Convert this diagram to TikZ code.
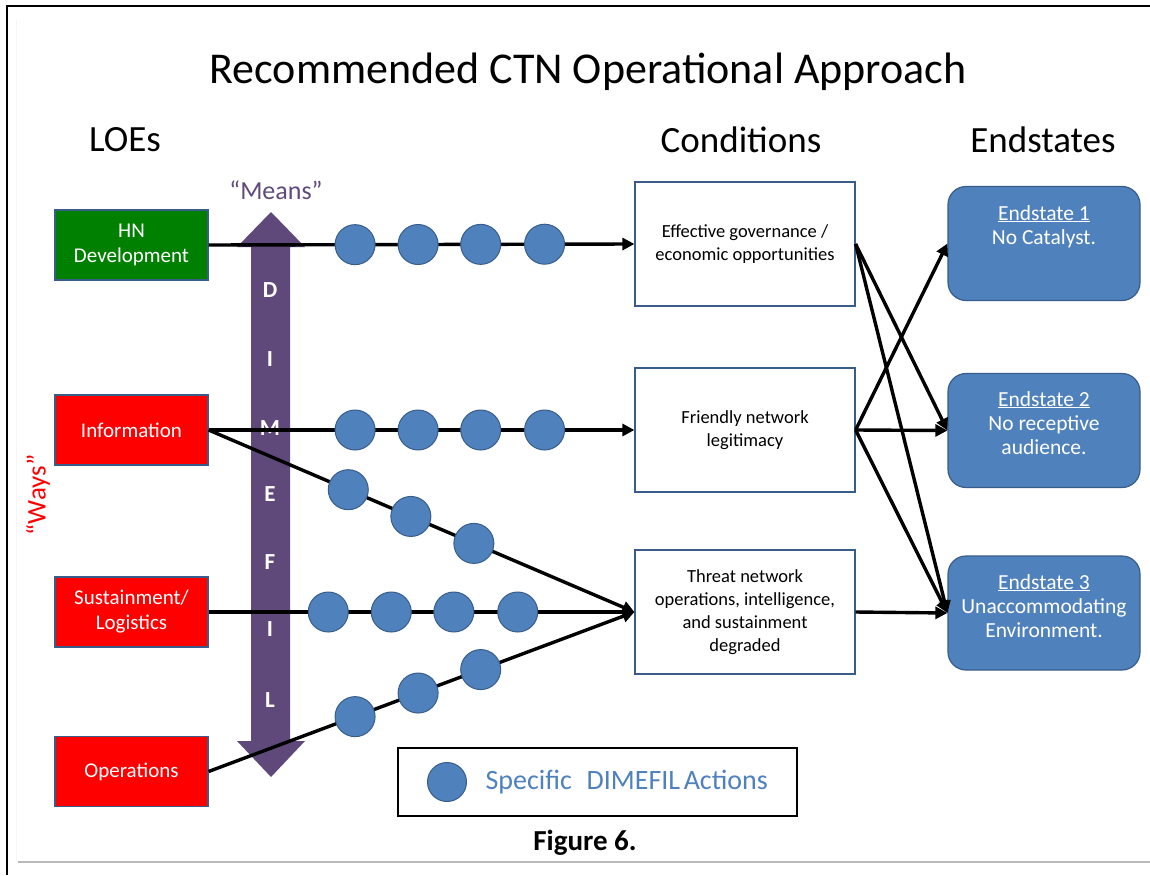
\documentclass[tikz,border=0pt]{standalone}
\usepackage{fontspec}
\setmainfont{Carlito}
\usetikzlibrary{arrows.meta}
\definecolor{purp}{HTML}{5F497A}
\definecolor{meansc}{HTML}{604A7B}
\definecolor{dotfill}{HTML}{4F81BD}
\definecolor{dotline}{HTML}{385D8A}
\definecolor{hngreen}{HTML}{008000}
\begin{document}
\begin{tikzpicture}[x=1pt,y=-1pt,
 loe/.style={draw=dotline, line width=1.2pt, minimum width=153pt, minimum height=70pt, text=white, align=center, font=\fontsize{21}{25}\selectfont, inner sep=0},
 cond/.style={draw=dotline, line width=1.2pt, fill=white, minimum width=220pt, minimum height=124pt, align=center, font=\fontsize{18.5}{23}\selectfont, inner sep=0},
 endbox/.style={draw=dotline, line width=1.2pt, fill=dotfill, rounded corners=18pt, minimum width=192pt, minimum height=114pt},
 endtext/.style={text=white, align=center, font=\fontsize{21.5}{24}\selectfont, anchor=north, inner sep=0},
 dot/.style={circle, draw=dotline, line width=1pt, fill=dotfill, minimum size=40pt, inner sep=0},
 conn/.style={line width=3.4pt, -{Triangle[length=12pt,width=12pt]}},
 head/.style={font=\fontsize{37}{40}\selectfont},
 dimefil/.style={text=white, font=\bfseries\fontsize{23}{23}\selectfont, inner sep=0},
]
\useasboundingbox (0,0) rectangle (1150,875);
\fill[white] (0,0) rectangle (1150,875);
% frame
\draw[line width=2.5pt] (7,875) -- (7,6) -- (1150,6);
\draw[gray!55, line width=1.2pt] (18,862) -- (1150,862);
\draw[gray!8, line width=1pt] (16,20) -- (16,862);

% titles
\node[font=\fontsize{44}{48}\selectfont] (title) at (588,72) {Recommended CTN Operational Approach};
\node[head] (hloe) at (125,140) {LOEs};
\node[head] (hcond) at (741,140) {Conditions};
\node[head] (hend) at (1043,140) {Endstates};
\node[text=meansc, font=\fontsize{26}{28}\selectfont] (means) at (276,190) {“Means”};
\node[text=red, rotate=90, font=\fontsize{27}{28}\selectfont] (ways) at (38,495) {“Ways”};

% DIMEFIL arrow
\fill[purp] (271,212) -- (305,247) -- (290,247) -- (290,741) -- (305,741) -- (271,777) -- (237,741) -- (251,741) -- (251,247) -- (237,247) -- cycle;
\node[dimefil] (lD) at (270,290) {D};
\node[dimefil] (lI1) at (270,359) {I};
\node[dimefil] (lM) at (270,428) {M};
\node[dimefil] (lE) at (270,494) {E};
\node[dimefil] (lF) at (270,562) {F};
\node[dimefil] (lI2) at (270,629) {I};
\node[dimefil] (lL) at (270,700) {L};

% LOE boxes
\node[loe, fill=hngreen] (hn) at (131.5,245) {HN\\Development};
\node[loe, fill=red] (info) at (131.5,430) {Information};
\node[loe, fill=red] (sust) at (131.5,612) {Sustainment/\\Logistics};
\node[loe, fill=red] (ops) at (131.5,771.5) {Operations};

% Condition boxes
\node[cond] (c1) at (745,244) {Effective governance /\\economic opportunities};
\node[cond] (c2) at (745,430) {Friendly network\\legitimacy};
\node[cond] (c3) at (745,612) {Threat network\\operations, intelligence,\\and sustainment\\degraded};

% Endstate boxes
\node[endbox] (e1) at (1044,243.5) {};
\node[endbox] (e2) at (1044,430.5) {};
\node[endbox] (e3) at (1044,613) {};
\node[endtext] (e1t) at (1044,205) {\underline{Endstate 1}\\No Catalyst.};
\node[endtext] (e2t) at (1044,391) {\underline{Endstate 2}\\No receptive\\audience.};
\node[endtext] (e3t) at (1044,574) {\underline{Endstate 3}\\Unaccommodating\\Environment.};

% LOE -> condition connectors with actions
\draw[conn] (hn.east) -- node[dot,pos=.344](d11){} node[dot,pos=.492](d12){} node[dot,pos=.639](d13){} node[dot,pos=.789](d14){} (c1.west);
\draw[conn] (info.east) -- node[dot,pos=.344](d21){} node[dot,pos=.492](d22){} node[dot,pos=.639](d23){} node[dot,pos=.789](d24){} (c2.west);
\draw[conn] (info.east) -- node[dot,pos=.328](d31){} node[dot,pos=.475](d32){} node[dot,pos=.623](d33){} (c3.west);
\draw[conn] (sust.east) -- node[dot,pos=.281](d41){} node[dot,pos=.429](d42){} node[dot,pos=.576](d43){} node[dot,pos=.726](d44){} (c3.west);
\draw[conn] (ops.east) -- node[dot,pos=.344](d51){} node[dot,pos=.492](d52){} node[dot,pos=.639](d53){} (c3.west);

% condition -> endstate connectors
\draw[conn] (c1.east) -- (e2.west);
\draw[conn] (c1.east) -- (e3.west);
\draw[conn] (c2.east) -- (e1.west);
\draw[conn] (c2.east) -- (e2.west);
\draw[conn] (c2.east) -- (e3.west);
\draw[conn] (c3.east) -- (e3.west);

% legend
\node[draw, line width=2pt, minimum width=399pt, minimum height=68pt] (legend) at (597.5,782) {};
\node[dot, minimum size=39pt] (ldot) at (447,782) {};
\node[text=dotfill, font=\fontsize{28}{30}\selectfont, anchor=west] (ltext) at (482,782) {Specific\hspace{0.3em} DIMEFIL\hspace{-0.1em} Actions};
\node[font=\bfseries\fontsize{29}{30}\selectfont] (fig) at (585,843) {Figure 6.};
\end{tikzpicture}
\end{document}
